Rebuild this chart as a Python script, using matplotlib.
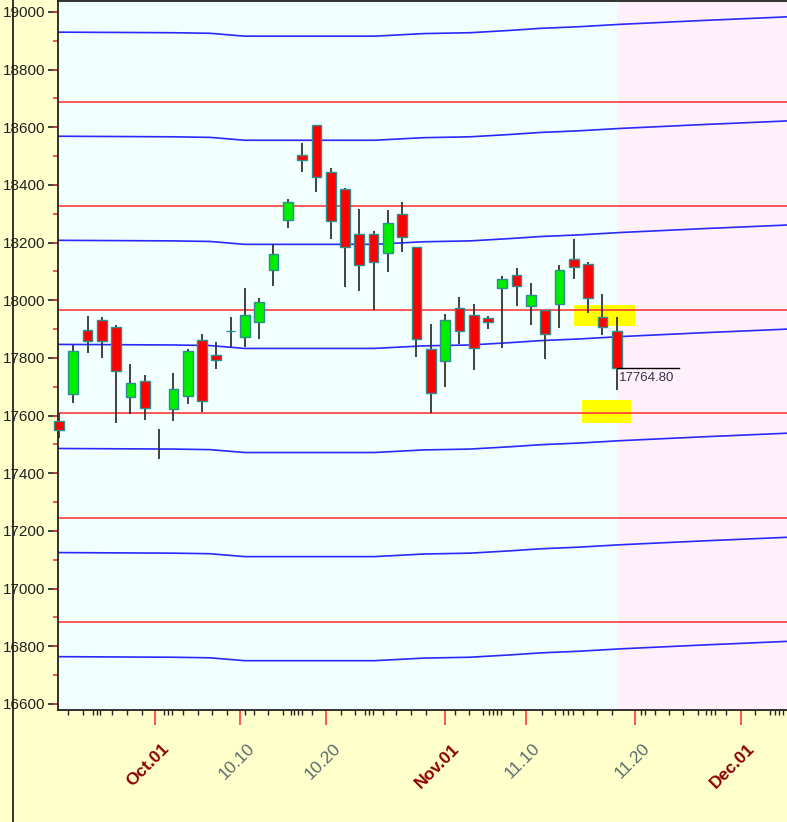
"""Daily candlestick chart with red/blue level bands."""

import matplotlib.pyplot as plt
import matplotlib.transforms as mtransforms
from matplotlib.lines import Line2D
from matplotlib.patches import Rectangle
import numpy as np

plt.rcParams['font.family'] = ['Liberation Sans', 'DejaVu Sans']

# Daily OHLC, one entry per trading day (x = trading-day index)
opens = [17581, 17676, 17897, 17932, 17906, 17664, 17720, np.nan, 17622, 17668,
         17861, 17810, 17895, 17872, 17924, 18106, 18279, 18504, 18608, 18444,
         18386, 18230, 18230, 18163, 18300, 18186, 17831, 17789, 17972, 17950,
         17939, 18044, 18088, 17980, 17966, 17986, 18143, 18126, 17941, 17894]
highs = [17609, 17845, 17947, 17943, 17913, 17778, 17740, 17553, 17747, 17830,
         17882, 17854, 17941, 18043, 18007, 18194, 18350, 18545, 18608, 18458,
         18390, 18317, 18241, 18313, 18342, 18186, 17917, 17951, 18012, 17986,
         17946, 18084, 18111, 18059, 17966, 18122, 18212, 18134, 18021, 17943]
lows = [17522, 17645, 17818, 17801, 17575, 17605, 17585, 17451, 17581, 17640,
        17612, 17762, 17839, 17839, 17866, 18051, 18251, 18446, 18377, 18212,
        18047, 18033, 17966, 18099, 18169, 17802, 17610, 17698, 17847, 17758,
        17901, 17835, 17980, 17914, 17795, 17905, 18074, 17957, 17880, 17689]
closes = [17550, 17824, 17859, 17859, 17755, 17712, 17625, np.nan, 17693, 17824,
          17651, 17794, 17895, 17950, 17993, 18162, 18340, 18488, 18427, 18275,
          18185, 18124, 18132, 18269, 18219, 17865, 17677, 17932, 17895, 17833,
          17925, 18073, 18050, 18018, 17882, 18105, 18114, 18007, 17906, 17764.80]

# Horizontal (red) levels
red_levels = [18688, 18327, 17966, 17609, 17245, 16884]

# Curved (blue) channel: middle line sampled along the x axis, plus offsets
blue_x = [-0.07, 7.97, 10.56, 13.0, 22.03, 25.52, 28.74, 31.54, 33.64, 36.43,
          39.23, 44.83, 50.91]
blue_mid = [17847, 17845, 17843, 17833, 17833, 17842, 17845, 17853, 17860,
            17866, 17874, 17887, 17900]
blue_offsets = [-1083, -722, -361, 0, 361, 722, 1083]

# Date axis (positions in trading-day index)
date_ticks = [6.71, 12.66, 18.67, 27.0, 32.63, 40.28, 47.67]
date_labels = ['Oct.01', '10.10', '10.20', 'Nov.01', '11.10', '11.20', 'Dec.01']
month_start = [True, False, False, True, False, False, True]
day_ticks = [0.65, 1.70, 2.36, 2.64, 2.87, 3.69, 4.73, 5.78, 7.36, 7.64, 7.92,
             8.69, 9.74, 10.72, 11.73, 13.0, 13.66, 14.64, 15.69, 16.2, 16.45,
             16.73, 16.97, 17.67, 19.72, 20.70, 21.4, 21.68, 21.94, 22.68, 23.6,
             24.6, 25.66, 27.69, 28.69, 29.67, 30.09, 30.37, 30.65, 30.91, 31.77,
             33.76, 34.69, 35.27, 35.62, 35.92, 36.66, 37.64, 38.69, 40.68, 40.98,
             41.68, 42.68, 43.66, 44.66, 45.24, 45.59, 45.87, 46.64, 48.67, 49.72,
             50.07, 50.37, 50.65]

# Highlighted zones: (x0, x1, y0, y1)
zones = [(36.0, 40.28, 17911, 17984), (36.57, 40.0, 17574, 17654)]

opens = np.array(opens, dtype=float)
closes = np.array(closes, dtype=float)
x = np.arange(len(opens))
last = len(opens) - 1

fig = plt.figure(figsize=(7.87, 8.22), dpi=100, facecolor='#FFFFCC')
ax = fig.add_axes([58 / 787, 112 / 822, 1 - 58 / 787, 709 / 822])
ax.set_facecolor('#F2FFFF')
ax.set_xlim(-0.07, 50.91)
ax.set_ylim(16579, 19038)

# Future region
ax.axvspan(last, 50.91, color='#FFF0FC', zorder=0, lw=0)

for x0, x1, y0, y1 in zones:
    ax.add_patch(Rectangle((x0, y0), x1 - x0, y1 - y0, color='#FFFF00',
                           lw=0, zorder=1))

# Level lines
for lvl in red_levels:
    ax.axhline(lvl, color='#FF3B3B', lw=1.2, zorder=2)
for off in blue_offsets:
    ax.plot(blue_x, np.array(blue_mid) + off, color='#2828FF', lw=1.2, zorder=2)

# Candles
up = closes >= opens
body_lo = np.minimum(opens, closes)
body_h = np.abs(closes - opens)
ax.vlines(x, lows, highs, color='#333333', lw=1.3, zorder=3)
ax.bar(x, body_h, bottom=body_lo, width=0.68,
       color=np.where(up, '#00EE00', '#FF0000'), edgecolor='#2E8E8E',
       linewidth=1.0, zorder=4, clip_on=False)

# Last price marker
ax.plot([last, 43.36], [closes[-1], closes[-1]], color='black', lw=1, zorder=5)
ax.annotate(f'{closes[-1]:.2f}', (last, closes[-1]), xytext=(1.5, -3),
            textcoords='offset points', ha='left', va='top', fontsize=9.5,
            color='#333344', zorder=5)

# Y axis
ax.set_yticks(np.arange(16600, 19001, 200))
ax.set_yticks(np.arange(16600, 19001, 100), minor=True)
ax.yaxis.remove_overlapping_locs = False
ax.tick_params(axis='y', which='major', length=7.2, width=1.2, color='#222222',
               pad=2, labelsize=11, labelcolor='#222222')
ax.tick_params(axis='y', which='minor', length=3.6, width=1.2, color='#E04040')

# X axis
ax.set_xticks(date_ticks)
ax.set_xticklabels([])
ax.set_xticks(day_ticks, minor=True)
ax.tick_params(axis='x', which='major', length=10.5, width=1.2, color='#FF3B3B')
ax.tick_params(axis='x', which='minor', length=3.6, width=1.0, color='#222222')

shift = mtransforms.ScaledTranslation(12 / 100, -36 / 100, fig.dpi_scale_trans)
trans = ax.get_xaxis_transform() + shift
for pos, lab, is_month in zip(date_ticks, date_labels, month_start):
    ax.text(pos, 0, lab, transform=trans, rotation=45, rotation_mode='anchor',
            ha='right', va='center', fontsize=12.5, clip_on=False,
            color='#8B0000' if is_month else '#5A6B6B',
            fontweight='bold' if is_month else 'normal')

for side in ['left', 'bottom', 'top']:
    ax.spines[side].set_linewidth(1.3)
    ax.spines[side].set_color('#222222')
ax.spines['right'].set_visible(False)

# Vertical rule at the far left of the figure
fig.add_artist(Line2D([13 / 787, 13 / 787], [0, 1], color='#222222', lw=1.3))

plt.savefig('out.png', dpi=100, facecolor=fig.get_facecolor())
